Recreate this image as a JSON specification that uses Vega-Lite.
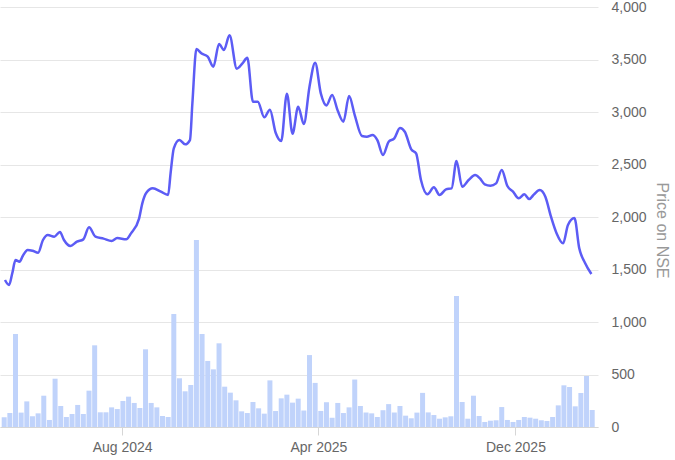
{
  "$schema": "https://vega.github.io/schema/vega-lite/v6.json",
  "width": 598,
  "height": 420,
  "autosize": {"type": "none"},
  "padding": {"left": 0, "top": 7, "right": 77, "bottom": 33},
  "config": {"view": {"stroke": null}, "font": "Liberation Sans"},
  "datasets": {
    "volume": [
      {"date": "2024-03-08", "volume": 92}, {"date": "2024-03-15", "volume": 133}, {"date": "2024-03-22", "volume": 886}, {"date": "2024-03-29", "volume": 137},
      {"date": "2024-04-05", "volume": 244}, {"date": "2024-04-12", "volume": 102}, {"date": "2024-04-19", "volume": 130}, {"date": "2024-04-26", "volume": 298},
      {"date": "2024-05-03", "volume": 67}, {"date": "2024-05-10", "volume": 460}, {"date": "2024-05-17", "volume": 200}, {"date": "2024-05-24", "volume": 95}, {"date": "2024-05-31", "volume": 124},
      {"date": "2024-06-07", "volume": 210}, {"date": "2024-06-14", "volume": 124}, {"date": "2024-06-21", "volume": 346}, {"date": "2024-06-28", "volume": 778},
      {"date": "2024-07-05", "volume": 140}, {"date": "2024-07-12", "volume": 140}, {"date": "2024-07-19", "volume": 187}, {"date": "2024-07-26", "volume": 171},
      {"date": "2024-08-02", "volume": 248}, {"date": "2024-08-09", "volume": 289}, {"date": "2024-08-16", "volume": 229}, {"date": "2024-08-23", "volume": 181}, {"date": "2024-08-30", "volume": 740},
      {"date": "2024-09-06", "volume": 229}, {"date": "2024-09-13", "volume": 187}, {"date": "2024-09-20", "volume": 105}, {"date": "2024-09-27", "volume": 95},
      {"date": "2024-10-04", "volume": 1076}, {"date": "2024-10-11", "volume": 464}, {"date": "2024-10-18", "volume": 340}, {"date": "2024-10-25", "volume": 400},
      {"date": "2024-11-01", "volume": 1781}, {"date": "2024-11-08", "volume": 886}, {"date": "2024-11-15", "volume": 629}, {"date": "2024-11-22", "volume": 549}, {"date": "2024-11-29", "volume": 797},
      {"date": "2024-12-06", "volume": 384}, {"date": "2024-12-13", "volume": 327}, {"date": "2024-12-20", "volume": 254}, {"date": "2024-12-27", "volume": 149},
      {"date": "2025-01-03", "volume": 133}, {"date": "2025-01-10", "volume": 238}, {"date": "2025-01-17", "volume": 178}, {"date": "2025-01-24", "volume": 127}, {"date": "2025-01-31", "volume": 444},
      {"date": "2025-02-07", "volume": 152}, {"date": "2025-02-14", "volume": 273}, {"date": "2025-02-21", "volume": 308}, {"date": "2025-02-28", "volume": 232},
      {"date": "2025-03-07", "volume": 270}, {"date": "2025-03-14", "volume": 157}, {"date": "2025-03-21", "volume": 685}, {"date": "2025-03-28", "volume": 420},
      {"date": "2025-04-04", "volume": 153}, {"date": "2025-04-11", "volume": 236}, {"date": "2025-04-18", "volume": 88}, {"date": "2025-04-25", "volume": 229},
      {"date": "2025-05-02", "volume": 133}, {"date": "2025-05-09", "volume": 187}, {"date": "2025-05-16", "volume": 452}, {"date": "2025-05-23", "volume": 200}, {"date": "2025-05-30", "volume": 138},
      {"date": "2025-06-06", "volume": 130}, {"date": "2025-06-13", "volume": 95}, {"date": "2025-06-20", "volume": 160}, {"date": "2025-06-27", "volume": 218},
      {"date": "2025-07-04", "volume": 138}, {"date": "2025-07-11", "volume": 200}, {"date": "2025-07-18", "volume": 108}, {"date": "2025-07-25", "volume": 83},
      {"date": "2025-08-01", "volume": 137}, {"date": "2025-08-08", "volume": 325}, {"date": "2025-08-15", "volume": 139}, {"date": "2025-08-22", "volume": 114}, {"date": "2025-08-29", "volume": 79},
      {"date": "2025-09-05", "volume": 92}, {"date": "2025-09-12", "volume": 102}, {"date": "2025-09-19", "volume": 1248}, {"date": "2025-09-26", "volume": 238},
      {"date": "2025-10-03", "volume": 79}, {"date": "2025-10-10", "volume": 298}, {"date": "2025-10-17", "volume": 105}, {"date": "2025-10-24", "volume": 48}, {"date": "2025-10-31", "volume": 60},
      {"date": "2025-11-07", "volume": 64}, {"date": "2025-11-14", "volume": 190}, {"date": "2025-11-21", "volume": 67}, {"date": "2025-11-28", "volume": 48},
      {"date": "2025-12-05", "volume": 67}, {"date": "2025-12-12", "volume": 95}, {"date": "2025-12-19", "volume": 89}, {"date": "2025-12-26", "volume": 79},
      {"date": "2026-01-02", "volume": 64}, {"date": "2026-01-09", "volume": 57}, {"date": "2026-01-16", "volume": 95}, {"date": "2026-01-23", "volume": 206}, {"date": "2026-01-30", "volume": 397},
      {"date": "2026-02-06", "volume": 381}, {"date": "2026-02-13", "volume": 197}, {"date": "2026-02-20", "volume": 324}, {"date": "2026-02-27", "volume": 486},
      {"date": "2026-03-06", "volume": 162}
    ],
    "price": [
      {"date": "2024-03-09", "price": 1400}, {"date": "2024-03-14", "price": 1352}, {"date": "2024-03-18", "price": 1464}, {"date": "2024-03-22", "price": 1590},
      {"date": "2024-03-27", "price": 1575}, {"date": "2024-03-31", "price": 1629}, {"date": "2024-04-06", "price": 1686}, {"date": "2024-04-12", "price": 1679},
      {"date": "2024-04-19", "price": 1660}, {"date": "2024-04-25", "price": 1781}, {"date": "2024-05-01", "price": 1829}, {"date": "2024-05-09", "price": 1813},
      {"date": "2024-05-16", "price": 1857}, {"date": "2024-05-21", "price": 1781}, {"date": "2024-05-29", "price": 1724}, {"date": "2024-06-06", "price": 1765},
      {"date": "2024-06-14", "price": 1787}, {"date": "2024-06-21", "price": 1902}, {"date": "2024-06-29", "price": 1813}, {"date": "2024-07-09", "price": 1794},
      {"date": "2024-07-19", "price": 1771}, {"date": "2024-07-26", "price": 1800}, {"date": "2024-08-06", "price": 1787}, {"date": "2024-08-12", "price": 1844},
      {"date": "2024-08-22", "price": 1985}, {"date": "2024-08-26", "price": 2130}, {"date": "2024-08-31", "price": 2230}, {"date": "2024-09-08", "price": 2273},
      {"date": "2024-09-18", "price": 2241}, {"date": "2024-09-27", "price": 2210}, {"date": "2024-09-30", "price": 2416}, {"date": "2024-10-04", "price": 2654},
      {"date": "2024-10-11", "price": 2733}, {"date": "2024-10-18", "price": 2692}, {"date": "2024-10-24", "price": 2733}, {"date": "2024-10-27", "price": 3083},
      {"date": "2024-11-01", "price": 3600}, {"date": "2024-11-07", "price": 3559}, {"date": "2024-11-15", "price": 3527}, {"date": "2024-11-22", "price": 3432},
      {"date": "2024-11-29", "price": 3648}, {"date": "2024-12-05", "price": 3590}, {"date": "2024-12-12", "price": 3730}, {"date": "2024-12-21", "price": 3413},
      {"date": "2024-12-28", "price": 3463}, {"date": "2025-01-03", "price": 3516}, {"date": "2025-01-10", "price": 3098}, {"date": "2025-01-16", "price": 3098},
      {"date": "2025-01-24", "price": 2949}, {"date": "2025-01-31", "price": 3022}, {"date": "2025-02-07", "price": 2805}, {"date": "2025-02-14", "price": 2724},
      {"date": "2025-02-21", "price": 3175}, {"date": "2025-02-28", "price": 2794}, {"date": "2025-03-07", "price": 3051}, {"date": "2025-03-14", "price": 2885},
      {"date": "2025-03-21", "price": 3241}, {"date": "2025-03-28", "price": 3470}, {"date": "2025-04-04", "price": 3178}, {"date": "2025-04-11", "price": 3063},
      {"date": "2025-04-18", "price": 3162}, {"date": "2025-04-25", "price": 3011}, {"date": "2025-05-02", "price": 2908}, {"date": "2025-05-09", "price": 3152},
      {"date": "2025-05-16", "price": 2971}, {"date": "2025-05-25", "price": 2771}, {"date": "2025-05-31", "price": 2765}, {"date": "2025-06-07", "price": 2781},
      {"date": "2025-06-13", "price": 2733}, {"date": "2025-06-20", "price": 2590}, {"date": "2025-06-27", "price": 2717}, {"date": "2025-07-04", "price": 2749},
      {"date": "2025-07-11", "price": 2848}, {"date": "2025-07-17", "price": 2812}, {"date": "2025-07-25", "price": 2645}, {"date": "2025-07-31", "price": 2606},
      {"date": "2025-08-06", "price": 2352}, {"date": "2025-08-14", "price": 2216}, {"date": "2025-08-22", "price": 2283}, {"date": "2025-08-29", "price": 2210},
      {"date": "2025-09-06", "price": 2263}, {"date": "2025-09-13", "price": 2273}, {"date": "2025-09-19", "price": 2533}, {"date": "2025-09-26", "price": 2289},
      {"date": "2025-10-04", "price": 2352}, {"date": "2025-10-12", "price": 2400}, {"date": "2025-10-18", "price": 2368}, {"date": "2025-10-24", "price": 2311},
      {"date": "2025-10-31", "price": 2298}, {"date": "2025-11-07", "price": 2320}, {"date": "2025-11-14", "price": 2448}, {"date": "2025-11-21", "price": 2295},
      {"date": "2025-11-28", "price": 2241}, {"date": "2025-12-05", "price": 2178}, {"date": "2025-12-12", "price": 2216}, {"date": "2025-12-18", "price": 2171},
      {"date": "2025-12-24", "price": 2216}, {"date": "2025-12-31", "price": 2257}, {"date": "2026-01-07", "price": 2193}, {"date": "2026-01-14", "price": 2003},
      {"date": "2026-01-21", "price": 1844}, {"date": "2026-01-29", "price": 1749}, {"date": "2026-02-04", "price": 1924}, {"date": "2026-02-12", "price": 1990},
      {"date": "2026-02-18", "price": 1702}, {"date": "2026-02-25", "price": 1565}, {"date": "2026-03-05", "price": 1457}
    ]
  },
  "layer": [
    {
      "data": {"name": "volume"},
      "mark": {"type": "bar", "color": "#c0d3fb", "size": 5, "clip": true},
      "encoding": {
        "x": {
          "field": "date", "type": "temporal",
          "scale": {"type": "utc", "domain": [{"year": 2024, "month": 3, "date": 9, "utc": true}, {"year": 2026, "month": 3, "date": 7, "utc": true}], "nice": false},
          "axis": {
            "title": null,
            "values": [{"year": 2024, "month": 8, "date": 1, "utc": true}, {"year": 2025, "month": 4, "date": 1, "utc": true}, {"year": 2025, "month": 12, "date": 1, "utc": true}],
            "format": "%b %Y",
            "grid": false,
            "domainColor": "#d6d6d6",
            "tickColor": "#d6d6d6",
            "tickSize": 8,
            "labelPadding": 5,
            "labelFontSize": 14,
            "labelColor": "#666666",
            "labelFlush": false
          }
        },
        "y": {
          "field": "volume", "type": "quantitative",
          "scale": {"domain": [0, 4000], "nice": false},
          "axis": {
            "orient": "right",
            "title": "Price on NSE",
            "values": [0, 500, 1000, 1500, 2000, 2500, 3000, 3500, 4000],
            "format": ",d",
            "domain": false,
            "ticks": false,
            "labelPadding": 13,
            "labelFontSize": 14,
            "labelColor": "#666666",
            "labelFlush": false,
            "gridColor": "#e6e6e6",
            "titleAngle": 90,
            "titleFontSize": 16,
            "titleFontWeight": "normal",
            "titleColor": "#999999",
            "titleX": 63,
            "titleY": 223,
            "titleAlign": "center",
            "titleBaseline": "middle"
          }
        }
      }
    },
    {
      "data": {"name": "price"},
      "mark": {"type": "line", "color": "#5c5cf5", "strokeWidth": 2.5, "interpolate": "monotone", "clip": true},
      "encoding": {
        "x": {"field": "date", "type": "temporal"},
        "y": {"field": "price", "type": "quantitative"}
      }
    }
  ]
}
